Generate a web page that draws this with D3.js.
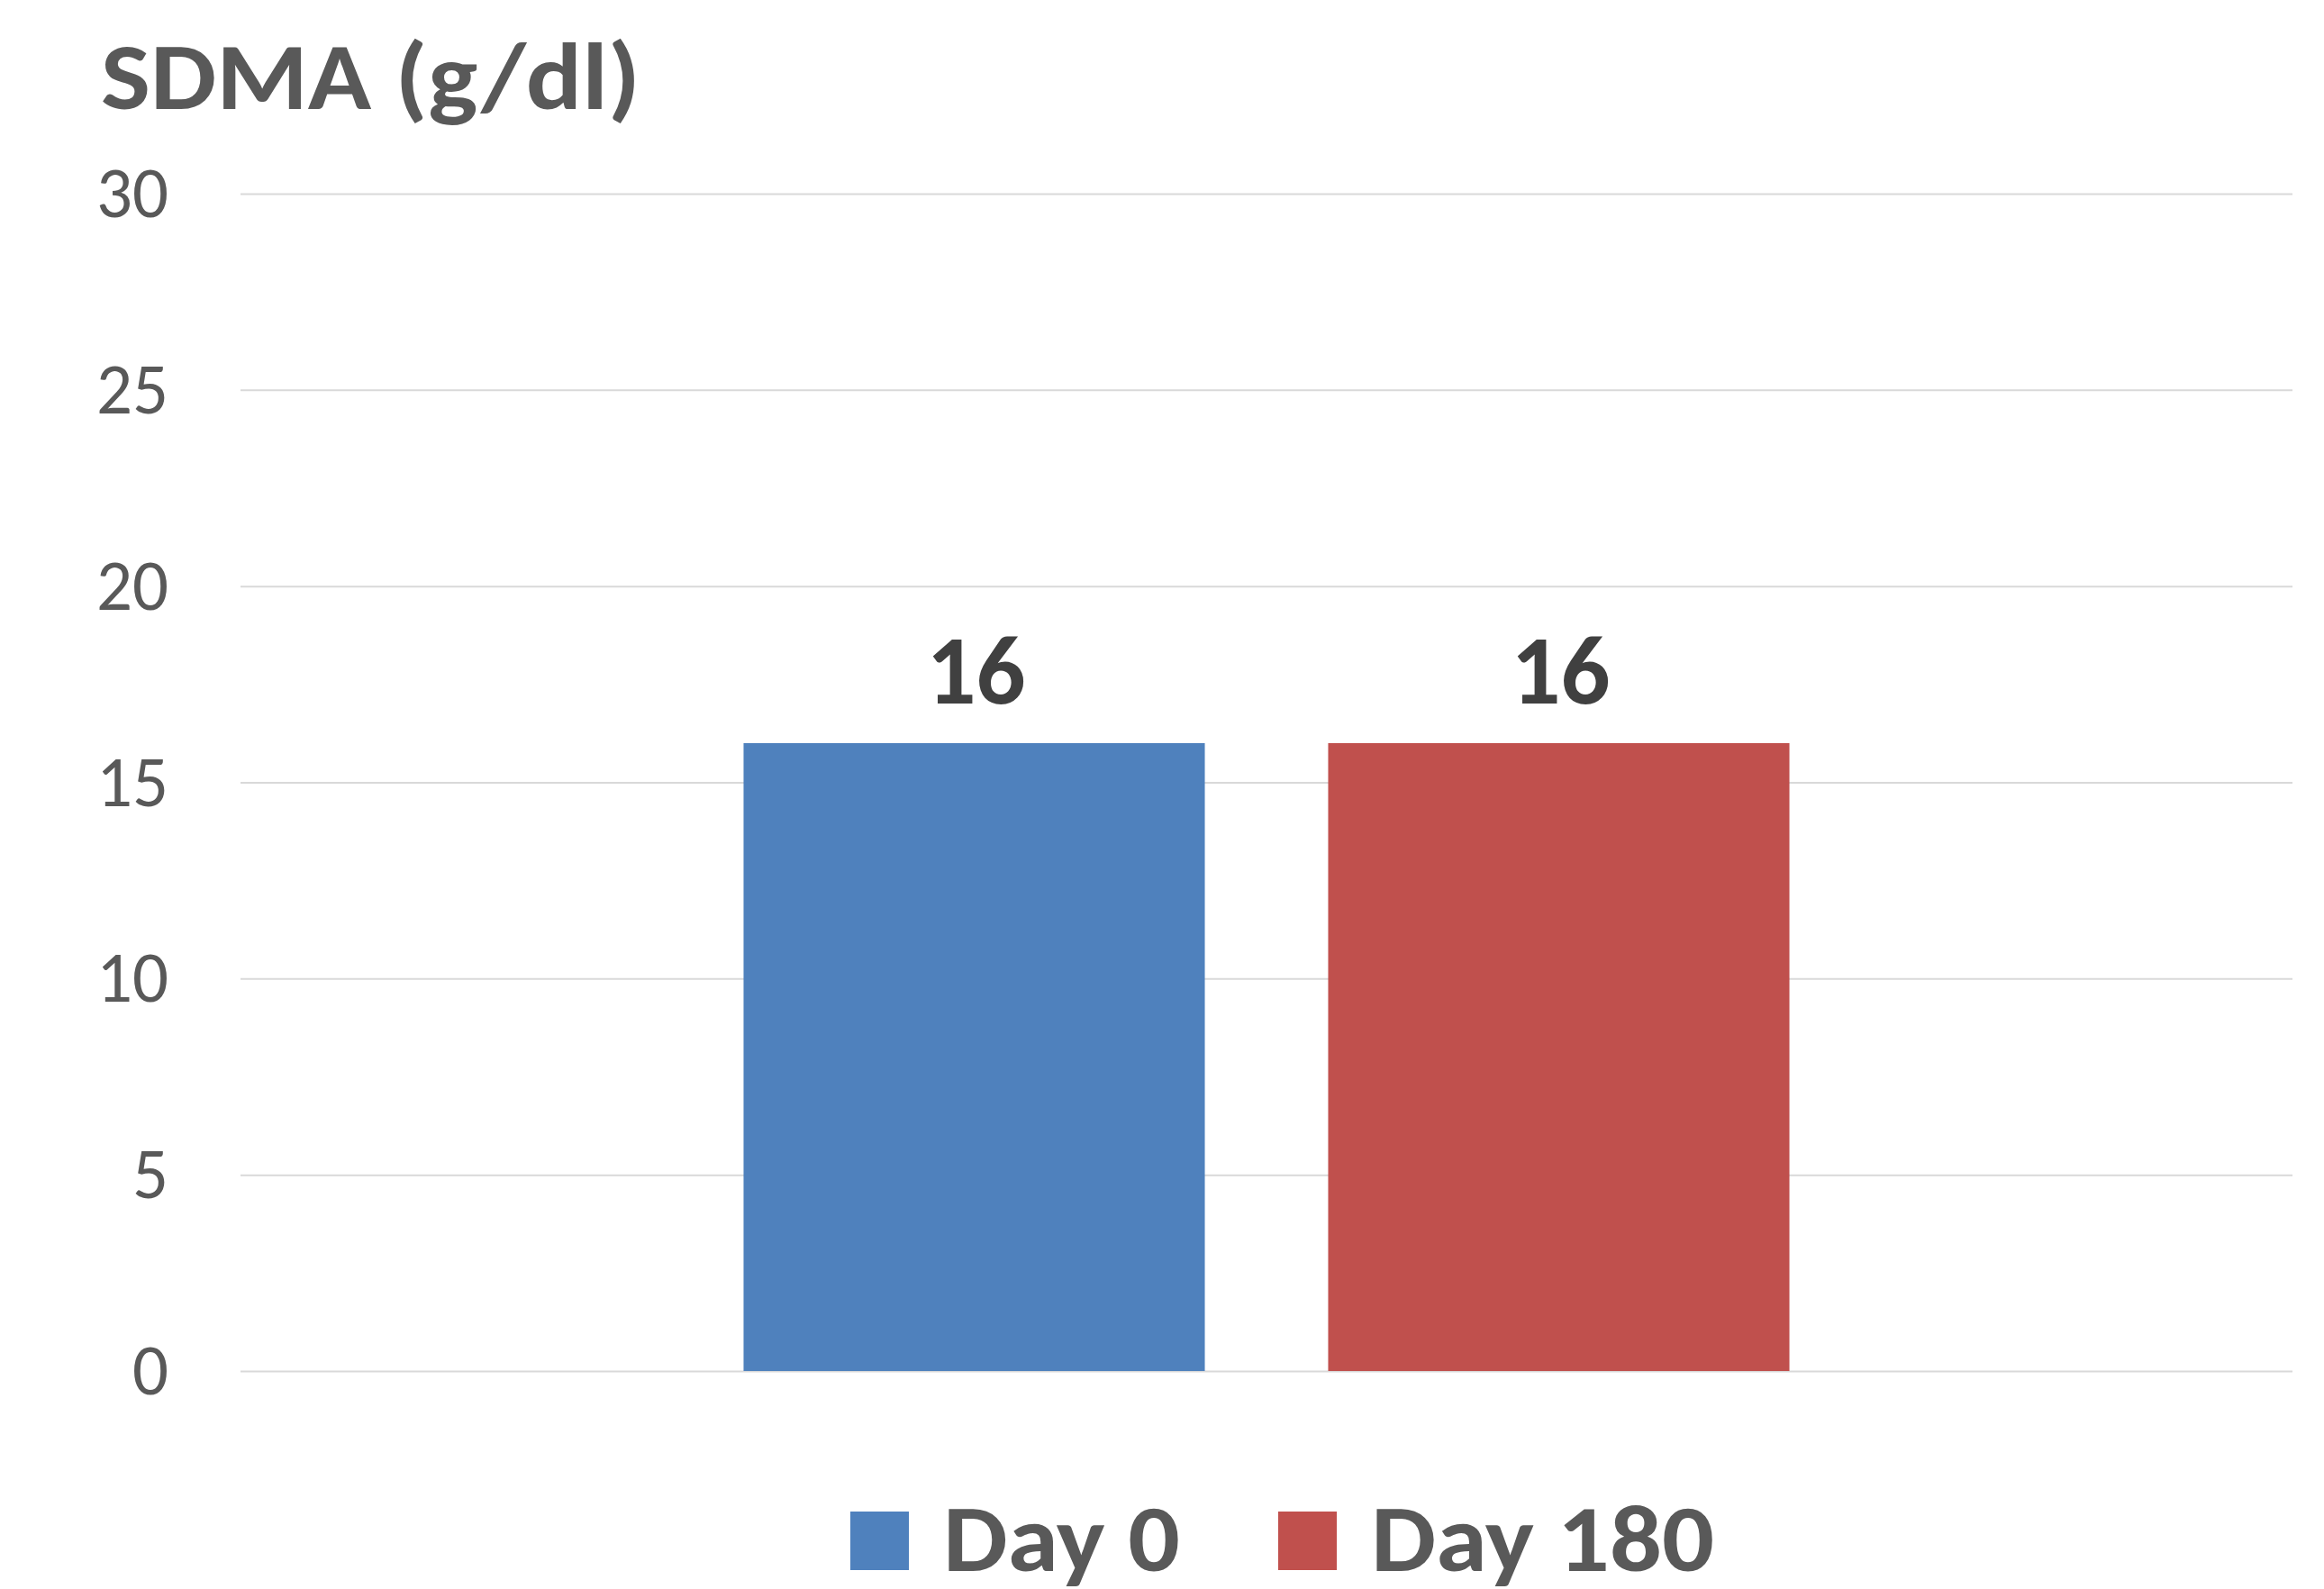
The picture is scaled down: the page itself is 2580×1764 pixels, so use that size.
<!DOCTYPE html>
<html>
<head>
<meta charset="utf-8">
<script src="https://cdn.jsdelivr.net/npm/d3@7"></script>
<style>
  html, body { margin: 0; padding: 0; background: #ffffff; }
  svg { display: block; }
  text { font-family: Carlito, Lato, "Open Sans", "Noto Sans", sans-serif; }
</style>
</head>
<body>
<script>
// Chart data
const categories = ["SDMA"];
const seriesNames = ["Day 0", "Day 180"];
const seriesValues = [16, 16];
const seriesColors = ["#4f81bd", "#c0504d"];
const yTicks = [0, 5, 10, 15, 20, 25, 30];
const titleText = "SDMA (g/dl)";

const W = 2580, H = 1764;
const plot = { left: 267, right: 2545, top: 215, bottom: 1522 };

const svg = d3.select("body").append("svg")
  .attr("width", W).attr("height", H);

const y = d3.scaleLinear().domain([0, 30]).range([plot.bottom, plot.top]);

const x0 = d3.scaleBand().domain(categories)
  .range([plot.left, plot.right])
  .paddingInner(0).paddingOuter(0.481);

const x1 = d3.scaleBand().domain(seriesNames)
  .range([0, x0.bandwidth()])
  .paddingInner(0.211).paddingOuter(0);

// Gridlines and tick labels
const yAxis = svg.append("g")
  .attr("transform", `translate(${plot.left},0)`)
  .call(d3.axisLeft(y).tickValues(yTicks)
    .tickSize(-(plot.right - plot.left)).tickPadding(80)
    .tickFormat(d3.format("d")));
yAxis.select(".domain").remove();
yAxis.selectAll(".tick line")
  .attr("stroke", "#d9d9d9").attr("stroke-width", 2);
yAxis.selectAll(".tick text")
  .attr("fill", "#595959")
  .attr("font-size", 80)
  .attr("font-weight", 400)
  .attr("dy", "0.32em")
  .attr("textLength", d => String(d).length * 40)
  .attr("lengthAdjust", "spacingAndGlyphs");

// Bars
const rows = seriesNames.map((name, i) => ({ cat: categories[0], name, value: seriesValues[i], color: seriesColors[i] }));

svg.append("g").selectAll("rect").data(rows).join("rect")
  .attr("x", d => x0(d.cat) + x1(d.name))
  .attr("y", d => y(d.value))
  .attr("width", x1.bandwidth())
  .attr("height", d => y(0) - y(d.value))
  .attr("fill", d => d.color);

// Value labels
svg.append("g").selectAll("text").data(rows).join("text")
  .attr("x", d => x0(d.cat) + x1(d.name) + x1.bandwidth() / 2 + 2)
  .attr("y", d => y(d.value) - 44)
  .attr("text-anchor", "middle")
  .attr("fill", "#404040")
  .attr("font-size", 110)
  .attr("font-weight", 700)
  .attr("textLength", 110)
  .attr("lengthAdjust", "spacingAndGlyphs")
  .text(d => d3.format("d")(d.value));

// Title
svg.append("text")
  .attr("x", 112).attr("y", 121)
  .attr("fill", "#595959")
  .attr("font-size", 106)
  .attr("font-weight", 700)
  .attr("textLength", 599)
  .attr("lengthAdjust", "spacingAndGlyphs")
  .text(titleText);

// Legend
const legendItems = [
  { x: 944, textW: 263 },
  { x: 1419, textW: 381 }
];
const legend = svg.append("g").selectAll("g").data(rows).join("g")
  .attr("transform", (d, i) => `translate(${legendItems[i].x},1678)`);
legend.append("rect")
  .attr("width", 65).attr("height", 65)
  .attr("fill", d => d.color);
legend.append("text")
  .attr("x", 103).attr("y", 66)
  .attr("fill", "#595959")
  .attr("font-size", 106)
  .attr("font-weight", 700)
  .attr("textLength", (d, i) => legendItems[i].textW)
  .attr("lengthAdjust", "spacingAndGlyphs")
  .text(d => d.name);
</script>
</body>
</html>
